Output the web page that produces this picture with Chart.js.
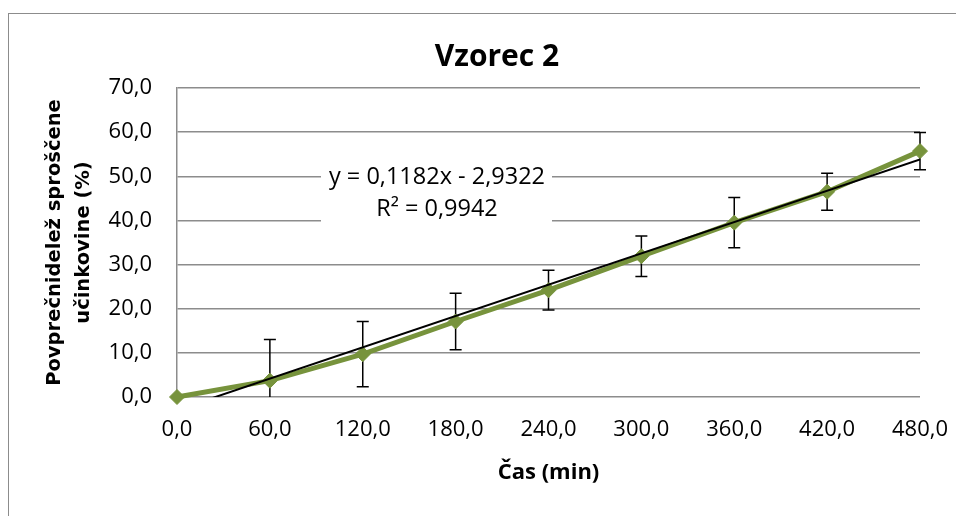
<!DOCTYPE html>
<html>
<head>
<meta charset="utf-8">
<title>Vzorec 2</title>
<script src="https://cdn.jsdelivr.net/npm/chart.js@4/dist/chart.umd.min.js"></script>
<style>
    html, body { margin: 0; padding: 0; background: #fff; overflow: hidden; }
    #wrap { position: relative; width: 956px; height: 516px; }
    #frame { position: absolute; left: 8px; top: 13px; width: 1000px; height: 600px; border: 1.5px solid #8c8c8c; box-sizing: border-box; pointer-events: none; }
    canvas { position: absolute; left: 0; top: 0; }
</style>
</head>
<body>
<div id="wrap">
    <canvas id="chart" width="956" height="516"></canvas>
    <div id="frame"></div>
</div>
<script>
// sampling times (min) and mean released fraction (%) with standard deviations
const timePoints = [0, 60, 120, 180, 240, 300, 360, 420, 480];
const meanRelease = [0, 3.7, 9.7, 17.1, 24.2, 31.9, 39.5, 46.5, 55.7];
const sdRelease = [0, 9.3, 7.4, 6.4, 4.5, 4.6, 5.7, 4.2, 4.2];

const xTickLabels = ['0,0', '60,0', '120,0', '180,0', '240,0', '300,0', '360,0', '420,0', '480,0'];
const yTickValues = [0, 10, 20, 30, 40, 50, 60, 70];
const yTickLabels = ['0,0', '10,0', '20,0', '30,0', '40,0', '50,0', '60,0', '70,0'];

// linear trendline reported for the series
const trendSlope = 0.1182;
const trendIntercept = -2.9322;
const trendR2 = 0.9942;

const FONT = '"Open Sans", "Liberation Sans", sans-serif';
const GREEN = '#77933C';
const GRID = '#8c8c8c';

function fmt(v, d) {
    return v.toFixed(d).replace('.', ',');
}

const trendPoints = [
    { x: timePoints[0], y: trendSlope * timePoints[0] + trendIntercept },
    { x: timePoints[timePoints.length - 1], y: trendSlope * timePoints[timePoints.length - 1] + trendIntercept }
];

// vertical error bars with caps, clipped at the bottom of the plot
const errorBars = {
    id: 'errorBars',
    beforeDatasetsDraw(chart) {
        const ctx = chart.ctx;
        const xs = chart.scales.x;
        const ys = chart.scales.y;
        const area = chart.chartArea;
        ctx.save();
        ctx.beginPath();
        ctx.rect(area.left, area.top - 10, area.right - area.left + 20, area.bottom - area.top + 10);
        ctx.clip();
        ctx.strokeStyle = '#000';
        ctx.lineWidth = 1.5;
        timePoints.forEach((t, i) => {
            if (!sdRelease[i]) return;
            const px = xs.getPixelForValue(t);
            const top = ys.getPixelForValue(meanRelease[i] + sdRelease[i]);
            const bot = ys.getPixelForValue(meanRelease[i] - sdRelease[i]);
            ctx.beginPath();
            ctx.moveTo(px, top);
            ctx.lineTo(px, bot);
            ctx.moveTo(px - 6, top);
            ctx.lineTo(px + 6, top);
            ctx.moveTo(px - 6, bot);
            ctx.lineTo(px + 6, bot);
            ctx.stroke();
        });
        ctx.restore();
    }
};

// chart title and the trendline equation box
const overlays = {
    id: 'overlays',
    beforeDatasetsDraw(chart) {
        const ctx = chart.ctx;
        ctx.save();
        ctx.fillStyle = '#fff';
        ctx.fillRect(321, 160, 231, 68);
        ctx.restore();
    },
    afterDraw(chart) {
        const ctx = chart.ctx;
        ctx.save();
        ctx.fillStyle = '#000';
        ctx.textAlign = 'center';
        ctx.textBaseline = 'middle';
        ctx.font = 'bold 30px ' + FONT;
        ctx.fillText('Vzorec 2', 497, 57);
        ctx.font = '23.5px ' + FONT;
        const sign = trendIntercept < 0 ? ' - ' : ' + ';
        ctx.fillText('y = ' + fmt(trendSlope, 4) + 'x' + sign + fmt(Math.abs(trendIntercept), 4), 437, 177);
        ctx.fillText('R\u00B2 = ' + fmt(trendR2, 4), 437, 209);
        ctx.restore();
    }
};

new Chart(document.getElementById('chart'), {
    type: 'line',
    data: {
        datasets: [
            {
                label: 'Linear trend',
                data: trendPoints,
                borderColor: '#000',
                borderWidth: 2,
                pointRadius: 0,
                fill: false
            },
            {
                label: 'Vzorec 2',
                data: timePoints.map((t, i) => ({ x: t, y: meanRelease[i] })),
                borderColor: GREEN,
                backgroundColor: GREEN,
                borderWidth: 5,
                pointStyle: 'rectRot',
                pointRadius: 7.5,
                pointBorderWidth: 1,
                pointBackgroundColor: GREEN,
                pointBorderColor: GREEN,
                fill: false,
                clip: 12
            }
        ]
    },
    options: {
        responsive: false,
        animation: false,
        layout: { padding: { left: 0, right: 36, top: 88, bottom: 0 } },
        plugins: {
            legend: { display: false },
            title: { display: false },
            tooltip: { enabled: false }
        },
        scales: {
            x: {
                type: 'linear',
                min: 0,
                max: 480,
                afterFit: scale => {
                    scale.height = 119;
                    scale.paddingLeft = 0;
                    scale.paddingRight = 0;
                },
                afterBuildTicks: scale => { scale.ticks = timePoints.map(v => ({ value: v })); },
                grid: { display: false, drawTicks: false },
                border: { display: false },
                ticks: {
                    padding: 20,
                    color: '#000',
                    font: { family: FONT, size: 22 },
                    callback: v => xTickLabels[timePoints.indexOf(v)]
                },
                title: {
                    display: true,
                    text: 'Čas (min)',
                    color: '#000',
                    font: { family: FONT, size: 22, weight: 'bold' },
                    padding: { top: 0, bottom: 30 }
                }
            },
            y: {
                min: 0,
                max: 70,
                afterFit: scale => {
                    scale.width = 177;
                    scale.paddingTop = 0;
                    scale.paddingBottom = 0;
                },
                afterBuildTicks: scale => { scale.ticks = yTickValues.map(v => ({ value: v })); },
                grid: { color: GRID, lineWidth: 1.5, drawTicks: false },
                border: { display: true, color: GRID, width: 1.5 },
                ticks: {
                    padding: 25,
                    color: '#000',
                    font: { family: FONT, size: 22 },
                    callback: v => yTickLabels[yTickValues.indexOf(v)]
                },
                title: {
                    display: true,
                    text: ['Povprečnidelež sproščene', 'učinkovine (%)'],
                    color: '#000',
                    font: { family: '"DejaVu Sans", sans-serif', size: 19.5, weight: 'bold', lineHeight: 1.5 },
                    padding: { top: 40, bottom: 0 }
                }
            }
        }
    },
    plugins: [errorBars, overlays]
});
</script>
</body>
</html>
